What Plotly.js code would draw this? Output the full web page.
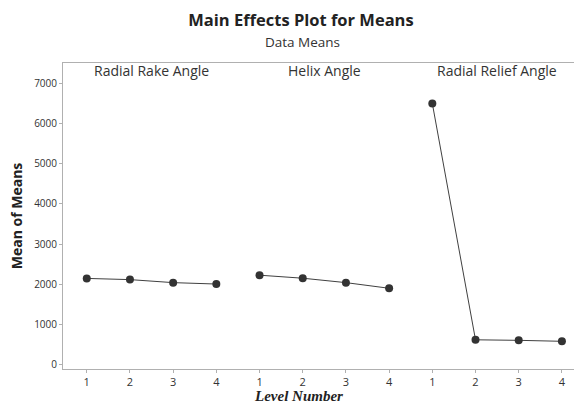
<!DOCTYPE html>
<html>
<head>
<meta charset="utf-8">
<script src="https://cdn.plot.ly/plotly-3.0.1.min.js"></script>
<style>html,body{margin:0;padding:0;background:#fff;}#chart{width:574px;height:405px;}</style>
</head>
<body>
<div id="chart"></div>
<script>
const factors = ["Radial Rake Angle", "Helix Angle", "Radial Relief Angle"];
const levels = [1, 2, 3, 4];
const rakeMeans = [2150, 2120, 2045, 2010];
const helixMeans = [2230, 2155, 2045, 1905];
const reliefMeans = [6495, 625, 612, 588];
const yTicks = [0, 1000, 2000, 3000, 4000, 5000, 6000, 7000];

const series = [rakeMeans, helixMeans, reliefMeans];
const traces = series.map((vals, i) => ({
  type: "scatter",
  mode: "lines+markers",
  x: levels.map(l => i * levels.length + l),
  y: vals,
  line: {color: "#404040", width: 1},
  marker: {color: "#333333", size: 8},
  showlegend: false,
  hoverinfo: "y"
}));

const tickvals = [], ticktext = [];
factors.forEach((f, i) => levels.forEach(l => { tickvals.push(i * levels.length + l); ticktext.push(String(l)); }));

const labelX = [2.5, 6.5, 10.5];

const layout = {
  width: 574, height: 405,
  margin: {l: 63, r: 0, t: 63, b: 36},
  paper_bgcolor: "#fff", plot_bgcolor: "#fff",
  font: {family: "Open Sans, Noto Sans, sans-serif", size: 10, color: "#333"},
  title: {text: "<b>Main Effects Plot for Means</b>", x: 301 / 574, xanchor: "center", y: 1 - 20 / 405, yanchor: "middle", yref: "container", font: {size: 16.5, color: "#222"}},
  xaxis: {
    range: [0.45, 12.28],
    tickmode: "array", tickvals: tickvals, ticktext: ticktext,
    showgrid: false, zeroline: false,
    showline: true, mirror: true, linecolor: "#b0b0b0", linewidth: 1,
    ticks: "outside", ticklen: 3, tickcolor: "#b0b0b0",
    tickfont: {size: 11, color: "#333"}
  },
  yaxis: {
    range: [-100, 7500],
    tickmode: "array", tickvals: yTicks,
    showgrid: false, zeroline: false,
    showline: true, mirror: true, linecolor: "#b0b0b0", linewidth: 1,
    ticks: "outside", ticklen: 3, tickcolor: "#b0b0b0",
    tickfont: {size: 10, color: "#333"},
    title: {text: "<b>Mean of Means</b>", font: {size: 14, color: "#222"}, standoff: 8}
  },
  annotations: factors.map((f, i) => ({
    text: f, x: labelX[i], y: 1, xref: "x", yref: "paper",
    yanchor: "middle", yshift: -7, showarrow: false, font: {size: 14, color: "#333"}
  }))
};
layout.annotations.push({text: "Data Means", x: (302 - 63) / 511, y: 1, xref: "paper", yref: "paper", yanchor: "middle", yshift: 21, showarrow: false, font: {size: 13.5, color: "#333"}});
layout.annotations.push({text: "<b><i>Level Number</i></b>", x: (298 - 63) / 511, y: 0, xref: "paper", yref: "paper", yanchor: "middle", yshift: -27, showarrow: false, font: {family: "Liberation Serif, Times New Roman, serif", size: 15, color: "#222"}});

Plotly.newPlot("chart", traces, layout, {displayModeBar: false, staticPlot: true});
</script>
</body>
</html>
